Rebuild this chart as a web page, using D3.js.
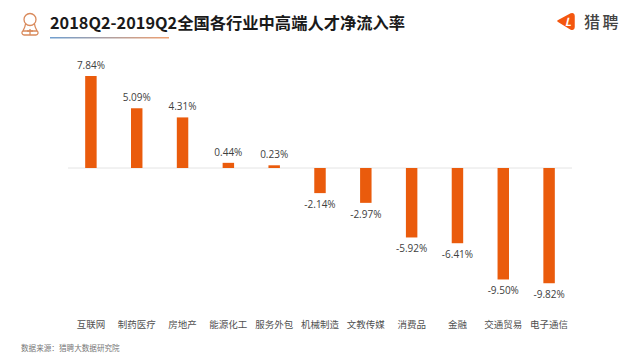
<!DOCTYPE html>
<html>
<head>
<meta charset="utf-8">
<script src="https://cdn.jsdelivr.net/npm/d3@7"></script>
<style>
html, body { margin: 0; padding: 0; background: #fff; }
svg { display: block; font-family: "Noto Sans CJK SC", "Noto Sans", sans-serif; }
</style>
</head>
<body>
<svg width="640" height="360"></svg>
<script>
const categories = ["互联网", "制药医疗", "房地产", "能源化工", "服务外包", "机械制造", "文教传媒", "消费品", "金融", "交通贸易", "电子通信"];
const values = [7.84, 5.09, 4.31, 0.44, 0.23, -2.14, -2.97, -5.92, -6.41, -9.50, -9.82];

const svg = d3.select("svg");

const x = d3.scaleBand()
    .domain(categories)
    .range([68, 572])
    .paddingInner(0.75)
    .paddingOuter(0.375);

const y = d3.scaleLinear()
    .domain([0, 7.84])
    .range([168, 76]);

// header
const defs = svg.append("defs");
const gradient = defs.append("linearGradient").attr("id", "title-line");
gradient.append("stop").attr("offset", "0%").attr("stop-color", "#6f9fd0");
gradient.append("stop").attr("offset", "100%").attr("stop-color", "#f0a070");

svg.append("rect")
    .attr("x", 50).attr("y", 37)
    .attr("width", 119).attr("height", 1.5)
    .attr("fill", "url(#title-line)");

svg.append("text")
    .attr("x", 50).attr("y", 29)
    .style("font-size", "16.3px")
    .style("font-weight", "bold")
    .style("fill", "#1a1a1a")
    .text("2018Q2-2019Q2全国各行业中高端人才净流入率");

// person icon
const icon = svg.append("g")
    .attr("fill", "none")
    .attr("stroke", "#d98a5c")
    .attr("stroke-width", 1.3);
icon.append("circle").attr("cx", 30).attr("cy", 19.5).attr("r", 6);
icon.append("path").attr("d", "M25.5 24 C25 28 23 30 23 31 L37 31 C37 30 35 28 34.5 24");
icon.append("path").attr("d", "M23 31 C21 32 22 35 24 35 L36 35 C38 35 39 32 37 31 M30 29 L30 35 M27 31 L33 31");

// logo
svg.append("path")
    .attr("d", "M558 21 L571 14 Q574 13 574 16 L574 27 Q574 30 571 29 Z")
    .attr("fill", "#f4570f")
    .attr("stroke", "#f4570f")
    .attr("stroke-width", 1.5)
    .attr("stroke-linejoin", "round");
svg.append("text")
    .attr("x", 568).attr("y", 26)
    .attr("text-anchor", "middle")
    .style("font-size", "11px")
    .style("font-weight", "bold")
    .style("font-style", "italic")
    .style("fill", "#fff")
    .text("L");
svg.append("text")
    .attr("x", 584).attr("y", 28)
    .style("font-size", "16px")
    .style("font-weight", "500")
    .style("letter-spacing", "2.5px")
    .style("fill", "#444")
    .text("猎聘");

// baseline
svg.append("line")
    .attr("x1", 68).attr("x2", 572)
    .attr("y1", y(0)).attr("y2", y(0))
    .attr("stroke", "#e4e4e4");

// bars
svg.selectAll(".bar")
    .data(values)
    .enter().append("rect")
    .attr("class", "bar")
    .attr("x", (d, i) => x(categories[i]))
    .attr("y", d => d > 0 ? y(d) : y(0))
    .attr("width", x.bandwidth())
    .attr("height", d => Math.abs(y(d) - y(0)))
    .attr("fill", "#ea5b0c");

// value labels
svg.selectAll(".value")
    .data(values)
    .enter().append("text")
    .attr("class", "value")
    .attr("x", (d, i) => x(categories[i]) + x.bandwidth() / 2)
    .attr("y", d => d > 0 ? y(d) - 7 : y(d) + 15)
    .attr("text-anchor", "middle")
    .style("font-size", "10px")
    .style("font-family", "'Open Sans', sans-serif")
    .style("fill", "#404040")
    .text(d => d.toFixed(2) + "%");

// category labels
svg.selectAll(".cat")
    .data(categories)
    .enter().append("text")
    .attr("class", "cat")
    .attr("x", d => x(d) + x.bandwidth() / 2)
    .attr("y", 328)
    .attr("text-anchor", "middle")
    .style("font-size", "9.5px")
    .style("fill", "#505050")
    .text(d => d);

svg.append("text")
    .attr("x", 21).attr("y", 351)
    .style("font-size", "7.6px")
    .style("fill", "#777")
    .text("数据来源：猎聘大数据研究院");
</script>
</body>
</html>
